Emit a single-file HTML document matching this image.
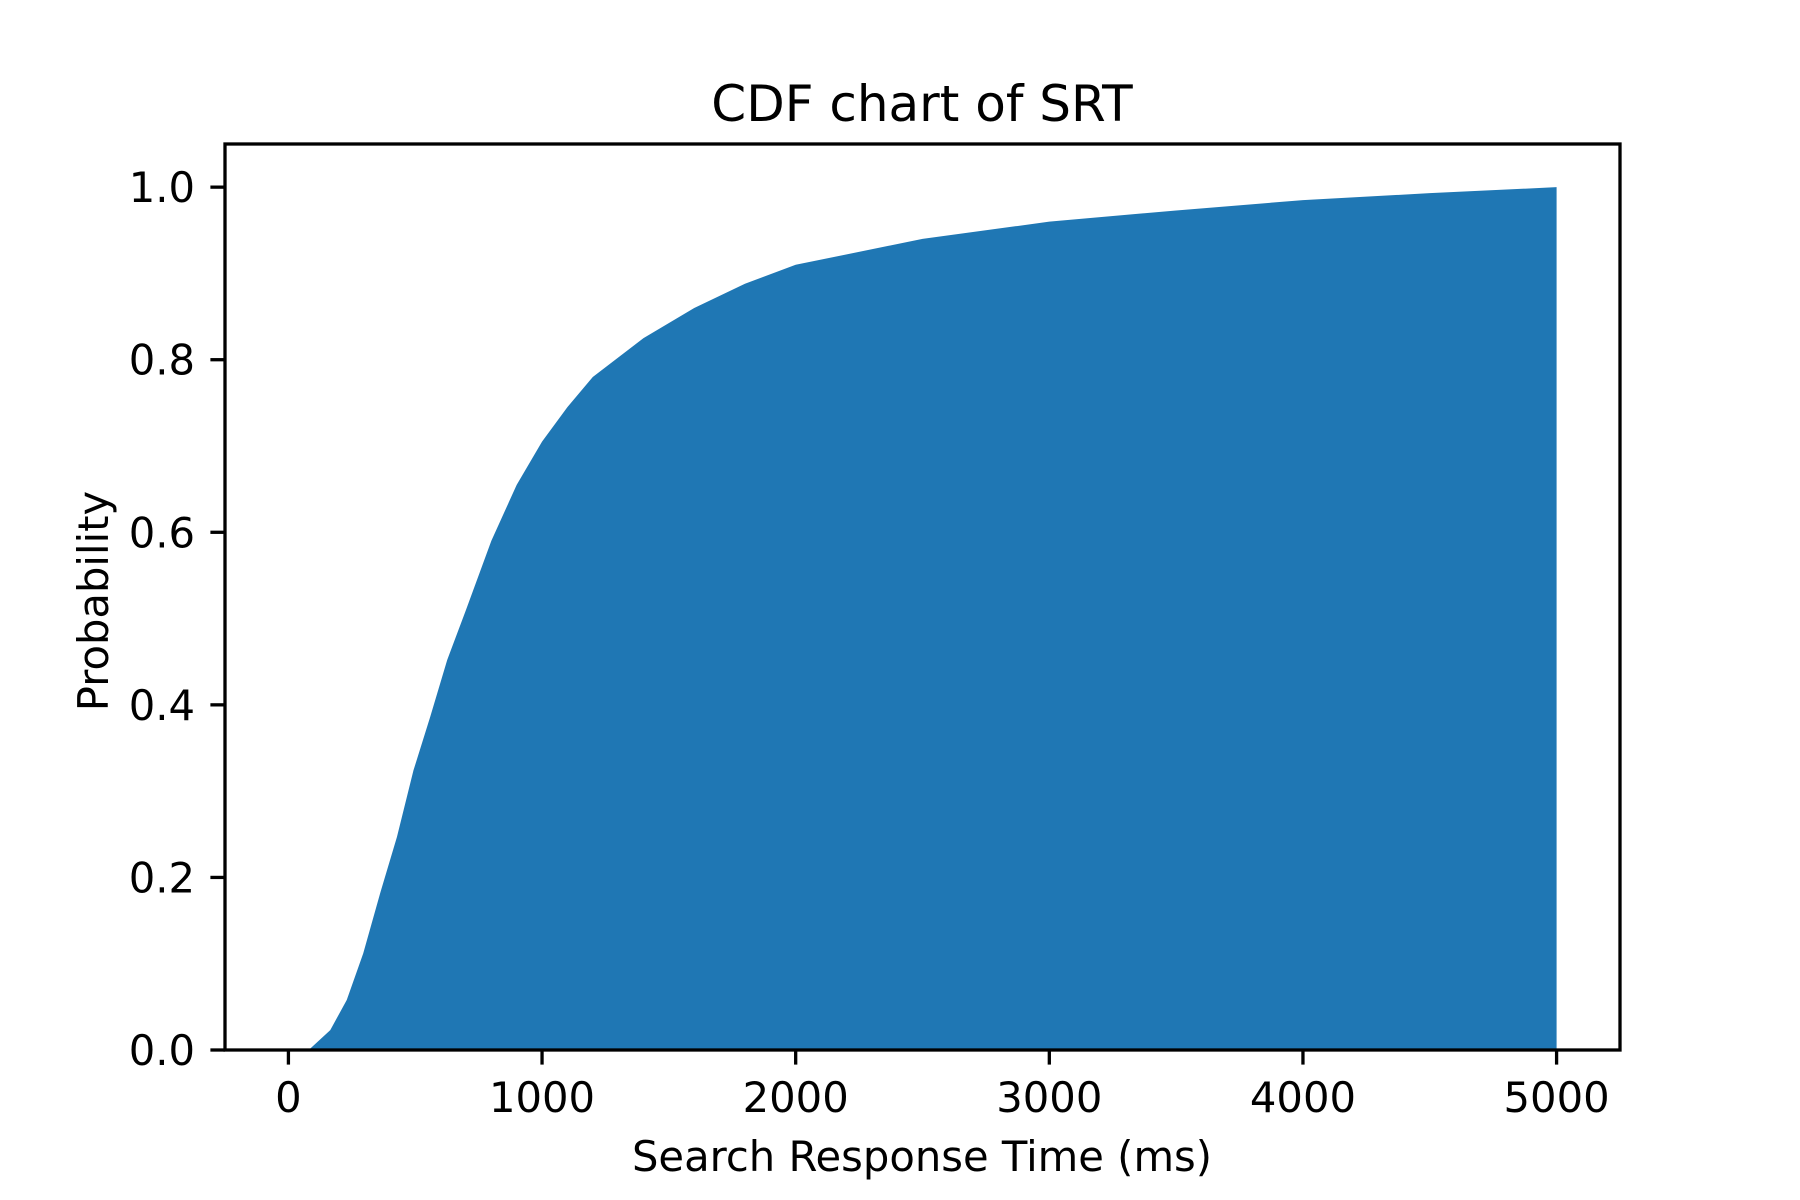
<!DOCTYPE html>
<html><head><meta charset="utf-8"><style>
html,body{margin:0;padding:0;background:#fff}
svg{display:block;font-family:"DejaVu Sans","Liberation Sans",sans-serif}
</style></head><body>
<svg id="chart" width="1800" height="1200" viewBox="0 0 1800 1200">
<rect x="0" y="0" width="1800" height="1200" fill="#fff"/>
<g id="plot"></g>
<g id="axes"></g>
<text x="922" y="121" font-size="50" text-anchor="middle">CDF chart of SRT</text>
<text x="922" y="1171" font-size="41.7" text-anchor="middle">Search Response Time (ms)</text>
<text x="0" y="0" font-size="41.7" text-anchor="middle" transform="translate(108,601) rotate(-90)">Probability</text>
</svg>
<script>
const xValues = [0, 80, 165, 230, 295, 362, 428, 493, 559, 626, 700, 800, 900, 1000, 1100, 1200, 1400, 1600, 1800, 2000, 2500, 3000, 3500, 4000, 4500, 5000];
const cdfValues = [0, 0, 0.023, 0.058, 0.112, 0.182, 0.247, 0.324, 0.386, 0.452, 0.51, 0.59, 0.655, 0.705, 0.745, 0.78, 0.825, 0.86, 0.888, 0.91, 0.94, 0.96, 0.973, 0.985, 0.993, 1.0];
const xTicks = [0, 1000, 2000, 3000, 4000, 5000];
const yTicks = [0, 0.2, 0.4, 0.6, 0.8, 1.0];
const yTickLabels = ["0.0", "0.2", "0.4", "0.6", "0.8", "1.0"];

const NS = "http://www.w3.org/2000/svg";
const L = 225, R = 1620, T = 144, B = 1050;
const xMin = -250, xMax = 5250, yMin = 0, yMax = 1.05;
const sx = v => L + (v - xMin) / (xMax - xMin) * (R - L);
const sy = v => B - (v - yMin) / (yMax - yMin) * (B - T);
const plot = document.getElementById('plot');
const axes = document.getElementById('axes');

let pts = [sx(xValues[0]) + ',' + sy(0)];
for (let i = 0; i < xValues.length; i++) pts.push(sx(xValues[i]) + ',' + sy(cdfValues[i]));
pts.push(sx(xValues[xValues.length - 1]) + ',' + sy(0));
const area = document.createElementNS(NS, 'polygon');
area.setAttribute('points', pts.join(' '));
area.setAttribute('fill', '#1f77b4');


plot.appendChild(area);

const frame = document.createElementNS(NS, 'rect');
frame.setAttribute('x', L); frame.setAttribute('y', T);
frame.setAttribute('width', R - L); frame.setAttribute('height', B - T);
frame.setAttribute('fill', 'none'); frame.setAttribute('stroke', '#000'); frame.setAttribute('stroke-width', '3.3');


axes.appendChild(frame);

xTicks.forEach(v => {
  const x = sx(v);
  const t = document.createElementNS(NS, 'line');
  t.setAttribute('x1', x); t.setAttribute('x2', x); t.setAttribute('y1', B); t.setAttribute('y2', B + 14.6);
  t.setAttribute('stroke', '#000'); t.setAttribute('stroke-width', '3.3');
  
  
  axes.appendChild(t);
  const lb = document.createElementNS(NS, 'text');
  lb.setAttribute('x', x); lb.setAttribute('y', 1112); lb.setAttribute('font-size', '41.7'); lb.setAttribute('text-anchor', 'middle');
  lb.textContent = String(v);
  
  
  axes.appendChild(lb);
});
yTicks.forEach((v, i) => {
  const y = sy(v);
  const t = document.createElementNS(NS, 'line');
  t.setAttribute('x1', L - 14.6); t.setAttribute('x2', L); t.setAttribute('y1', y); t.setAttribute('y2', y);
  t.setAttribute('stroke', '#000'); t.setAttribute('stroke-width', '3.3');
  
  
  axes.appendChild(t);
  const lb = document.createElementNS(NS, 'text');
  lb.setAttribute('x', L - 30); lb.setAttribute('y', y + 15); lb.setAttribute('font-size', '41.7'); lb.setAttribute('text-anchor', 'end');
  lb.textContent = yTickLabels[i];
  
  
  axes.appendChild(lb);
});
</script>
</body></html>
